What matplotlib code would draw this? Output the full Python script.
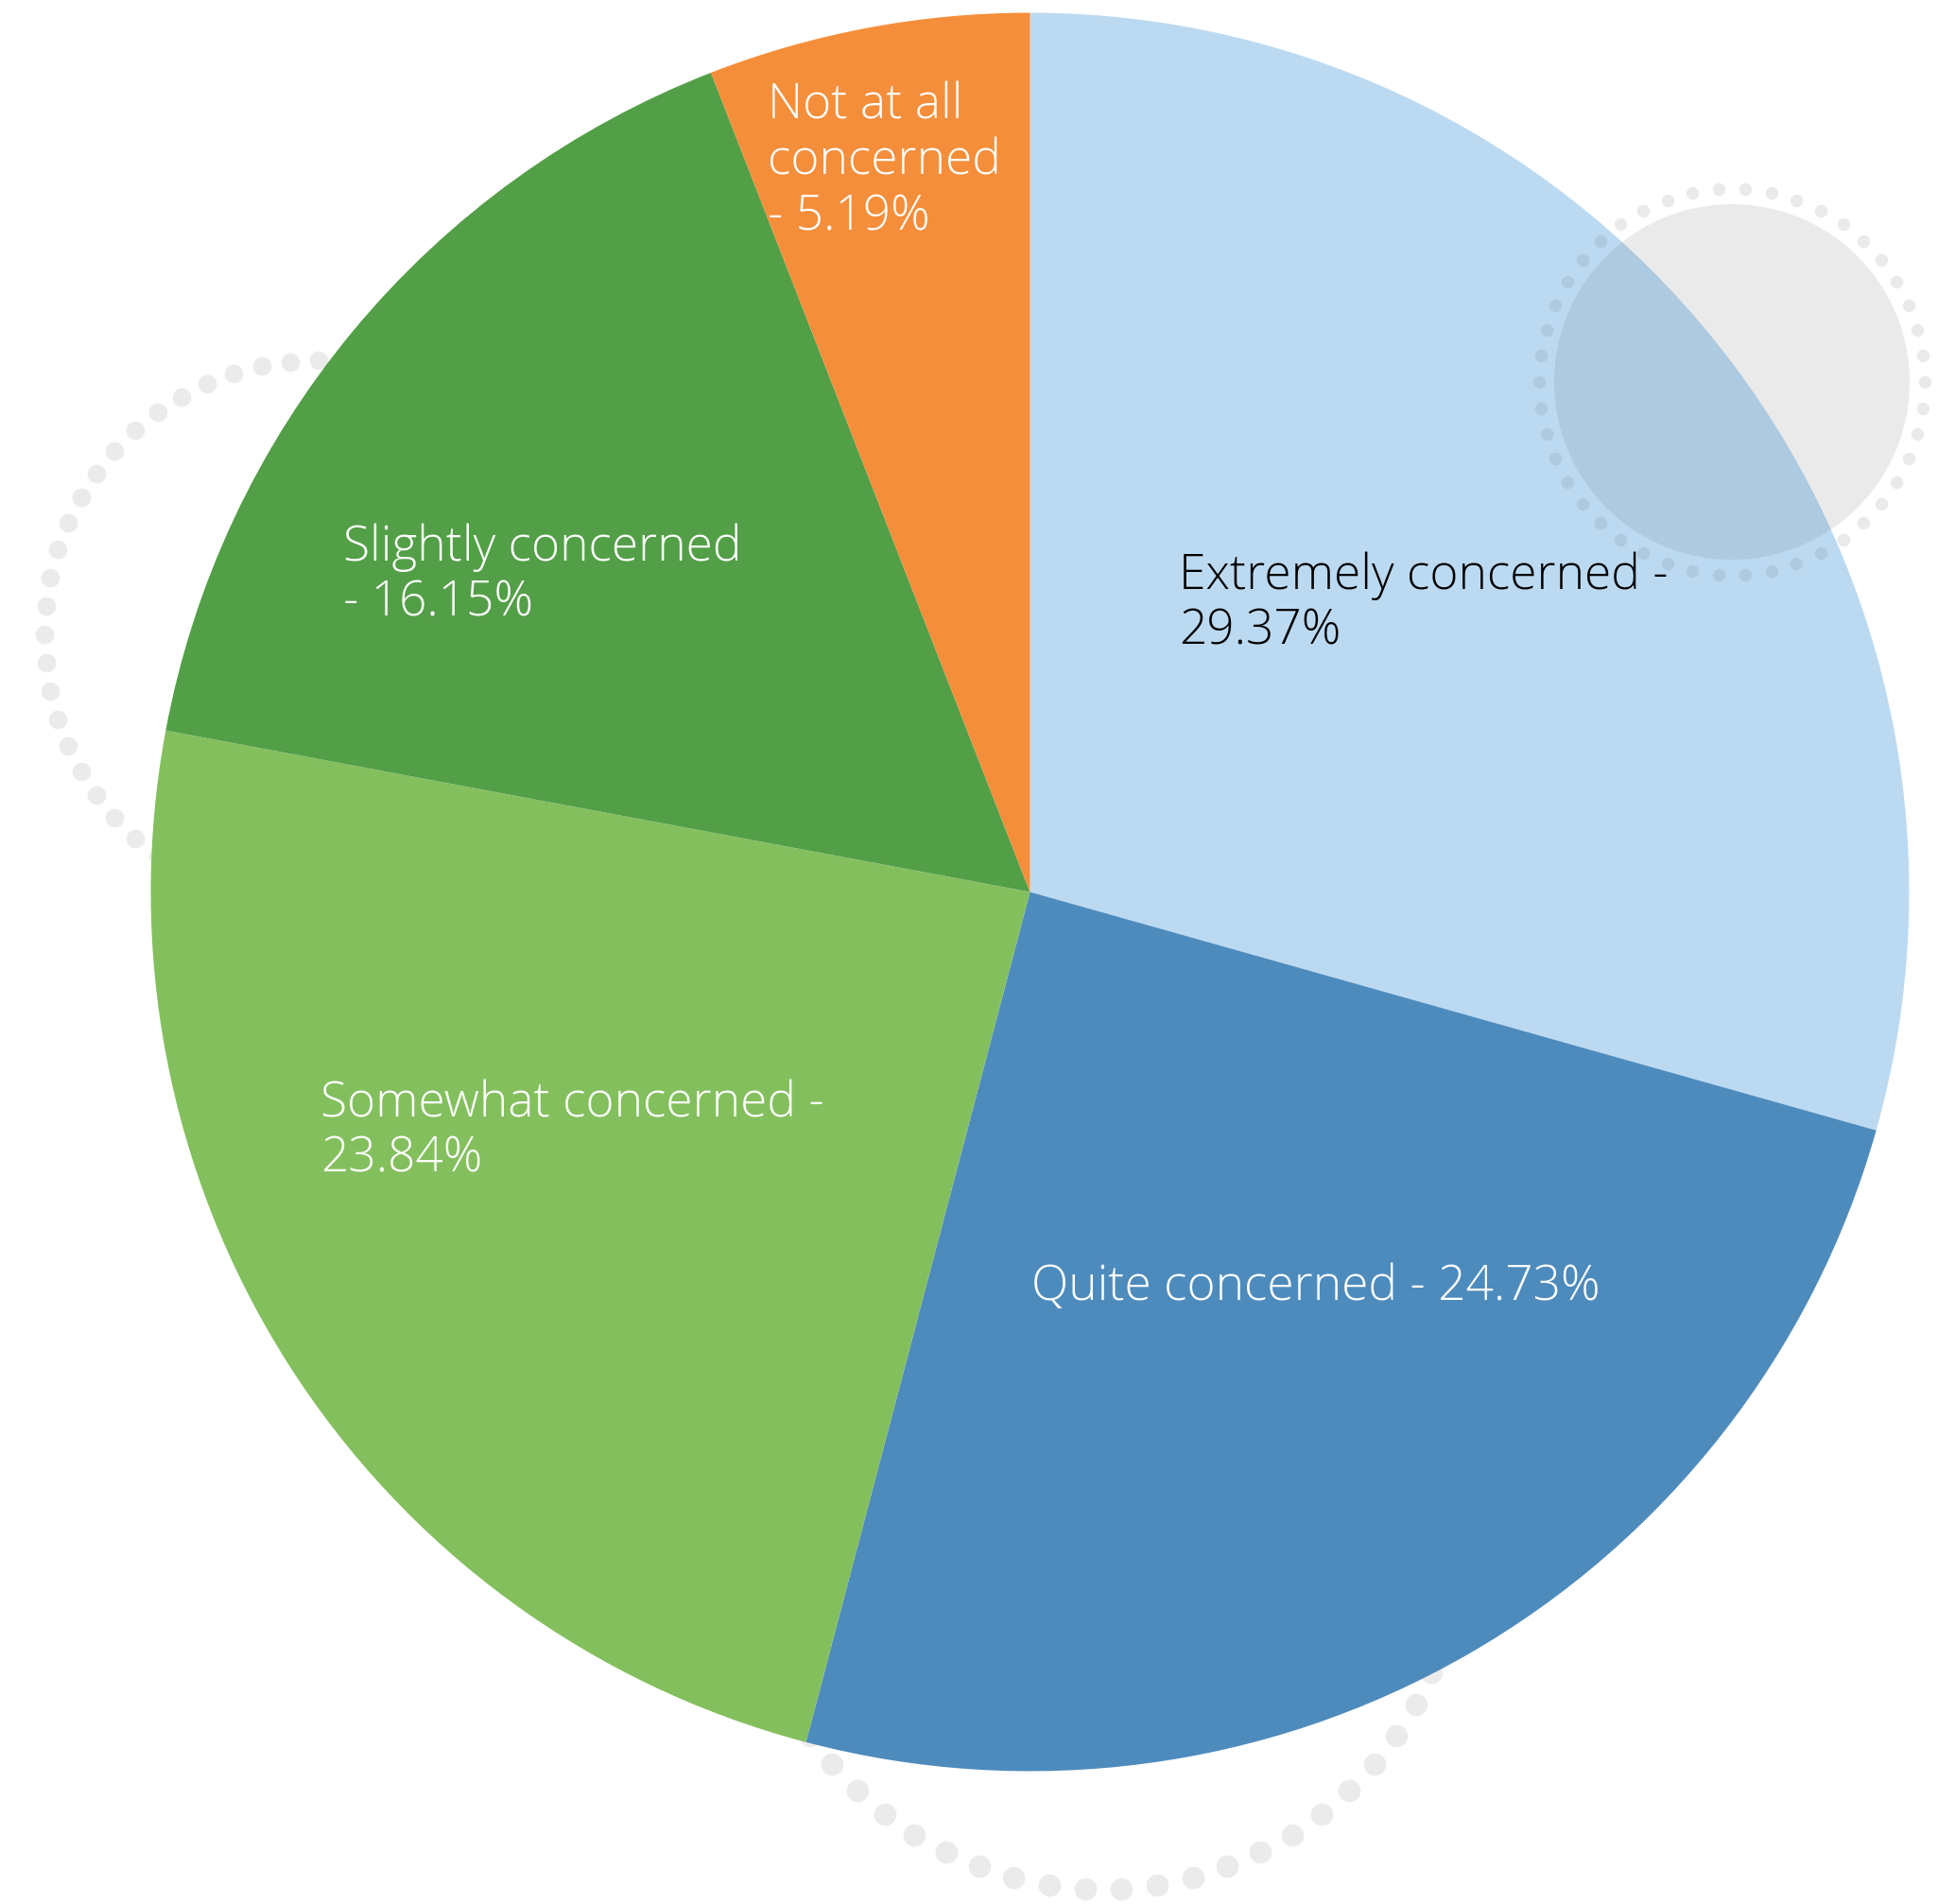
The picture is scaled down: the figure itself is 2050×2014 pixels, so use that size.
import numpy as np
import matplotlib
matplotlib.use("Agg")
import matplotlib.pyplot as plt
from matplotlib.patches import Circle

# ---------------- datos ----------------
categorias = ["Extremely concerned", "Quite concerned", "Somewhat concerned",
              "Slightly concerned", "Not at all concerned"]
# el sector naranja mide ~5.91% en la imagen (la etiqueta dice 5.19%)
porcentajes = [29.37, 24.73, 23.84, 16.15, 5.91]
colores = ["#BBDAF2", "#4E8BBD", "#84BF5E", "#539F47", "#F58E3A"]
etiquetas = ["Extremely concerned -\n29.37%",
             "Quite concerned - 24.73%",
             "Somewhat concerned -\n23.84%",
             "Slightly concerned\n- 16.15%",
             "Not at all\nconcerned\n- 5.19%"]
color_texto = ["black", "white", "white", "white", "white"]

W, H = 2050, 2014
fig = plt.figure(figsize=(W / 100, H / 100), dpi=100)
ax = fig.add_axes([0, 0, 1, 1])


def anillo_punteado(cx, cy, r, n, s, z, color="#EBEBEB", alpha=1.0):
    ang = np.linspace(0, 2 * np.pi, n, endpoint=False)
    ax.scatter(cx + r * np.cos(ang), cy + r * np.sin(ang), s=s,
               color=color, alpha=alpha, linewidths=0, zorder=z)


# decoraciones detras del pie
anillo_punteado(337, H - 671, 290, 60, 200, 0)
anillo_punteado(1167, H - 1620, 378, 62, 290, 0)

# pie
ax.pie(porcentajes, colors=colores, startangle=90, counterclock=False,
       center=(1089.5, H - 943.5), radius=930, frame=True,
       wedgeprops=dict(linewidth=0))
ax.set_xlim(0, W)
ax.set_ylim(0, H)
ax.set_aspect("equal")
ax.axis("off")

# decoraciones encima del pie
ax.add_patch(Circle((1832, H - 404), 188, color="#555A60", alpha=0.12,
                    linewidth=0, zorder=5))
anillo_punteado(1832, H - 404, 204, 46, 95, 5, color="#555A60", alpha=0.12)

# etiquetas (x, linea base de la ultima linea)
pos = [(1247, 682), (1091, 1375), (339, 1240), (363, 652), (812, 243)]
for txt, (x, y), c in zip(etiquetas, pos, color_texto):
    ax.text(x, H - y, txt, color=c, fontsize=37, family="Open Sans",
            fontweight=300, ha="left", va="baseline",
            linespacing=1.18, zorder=6)

fig.savefig("out.png", dpi=100)
